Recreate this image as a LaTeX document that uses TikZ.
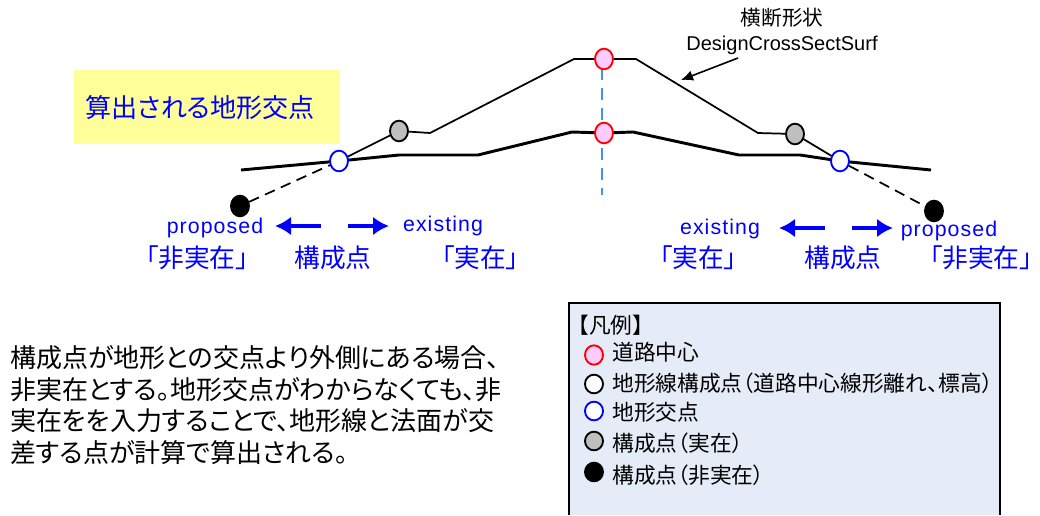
\documentclass[tikz,border=0pt]{standalone}
\usepackage{fontspec}
\setmainfont{Noto Sans CJK JP}[RawFeature={+palt}]
\newfontfamily\latinfont{Liberation Sans}
\newfontfamily\spacedfont{Liberation Sans}[LetterSpace=5]
\usetikzlibrary{shapes.geometric,backgrounds,arrows.meta}
\definecolor{notecolor}{HTML}{FFFF99}
\definecolor{legendcolor}{HTML}{E6ECF7}
\definecolor{centercolor}{HTML}{FFCCFF}
\definecolor{axiscolor}{HTML}{4A90E8}
\tikzset{
  pointmark/.style={ellipse, draw, line width=1.4pt, inner sep=0pt, minimum width=13.5pt, minimum height=15.5pt},
  centerpoint/.style={pointmark, draw=red, fill=centercolor},
  surveypoint/.style={pointmark, draw=black, fill=white},
  crosspoint/.style={pointmark, draw=blue, fill=white},
  realpoint/.style={pointmark, draw=black, fill=black!25},
  ghostpoint/.style={pointmark, draw=black, fill=black},
  bluelabel/.style={text=blue, inner sep=0pt, font=\fontsize{19.3}{21}\selectfont},
  latinlabel/.style={text=blue, inner sep=0pt, font=\spacedfont\fontsize{16}{18}\selectfont},
  legendtext/.style={anchor=west, inner sep=0pt, font=\fontsize{16.3}{18}\selectfont},
  terrain/.style={line width=2.2pt},
  design/.style={line width=1.3pt},
  bluearrow/.style={-{Latex[length=12pt,width=14pt]}, blue, line width=2.4pt},
}
\begin{document}
\begin{tikzpicture}[x=0.75pt, y=-0.75pt, >=latex]
  \useasboundingbox (0,0) rectangle (1040,515);

  \node[fill=notecolor, anchor=north west, minimum height=55.5pt, text width=183pt,
    inner xsep=8.25pt, inner ysep=0pt, align=left, text=blue,
    font=\fontsize{19.6}{22}\selectfont] (notebox) at (74,70) {算出される地形交点};

  \node[centerpoint] (centerTop) at (604,59) {};
  \node[centerpoint] (centerLow) at (604,133) {};
  \node[realpoint] (realL) at (399,131) {};
  \node[realpoint] (realR) at (795,134) {};
  \node[crosspoint] (crossL) at (339,161) {};
  \node[crosspoint] (crossR) at (840,161) {};
  \node[ghostpoint] (ghostL) at (240,206) {};
  \node[ghostpoint] (ghostR) at (934,211) {};

  \coordinate (axisTop) at (602,68);
  \coordinate (axisEnd) at (602,195);
  \coordinate (d1) at (430,133);
  \coordinate (d2) at (574,59);
  \coordinate (d3) at (636,59);
  \coordinate (d4) at (758,133);
  \coordinate (g0) at (241,170);
  \coordinate (g1) at (399,155);
  \coordinate (g2) at (478,155);
  \coordinate (g3) at (572,132);
  \coordinate (g4) at (633,132);
  \coordinate (g5) at (739,155);
  \coordinate (g6) at (800,155);
  \coordinate (g7) at (931,170);

  \begin{scope}[on background layer]
    \draw[axiscolor, line width=1pt, dash pattern=on 9pt off 6pt] (axisTop) -- (axisEnd);
    \draw[terrain] (g0) -- (crossL.center) -- (g1) -- (g2) -- (g3) -- (centerLow.center) -- (g4) -- (g5) -- (g6) -- (crossR.center) -- (g7);
    \draw[design] (crossL.center) -- (realL.center) -- (d1) -- (d2) -- (centerTop.center) -- (d3) -- (d4) -- (realR.center) -- (crossR.center);
    \draw[design, dash pattern=on 8pt off 5pt] (ghostL) -- (crossL);
    \draw[design, dash pattern=on 8pt off 5pt] (crossR) -- (ghostR);
  \end{scope}

  \node[font=\fontsize{15.5}{18}\selectfont, inner sep=0pt] (titleJa) at (782,18) {横断形状};
  \node[font=\latinfont\fontsize{15}{18}\selectfont, inner sep=0pt] (titleEn) at (782,45) {DesignCrossSectSurf};
  \coordinate (leaderStart) at (738,58);
  \coordinate (leaderEnd) at (681,80);
  \draw[-{Latex[length=9pt,width=8pt]}, line width=1.2pt] (leaderStart) -- (leaderEnd);

  \node[latinlabel] (propL) at (215,228) {proposed};
  \node[latinlabel] (exisL) at (443,226) {existing};
  \node[bluelabel] (ghostLabL) at (197,258) {「非実在」};
  \node[bluelabel] (partL) at (333,258) {構成点};
  \node[bluelabel] (realLabL) at (480,258) {「実在」};
  \node[latinlabel] (exisR) at (720,229) {existing};
  \node[latinlabel] (propR) at (949,231) {proposed};
  \node[bluelabel] (realLabR) at (698,258) {「実在」};
  \node[bluelabel] (partR) at (843,258) {構成点};
  \node[bluelabel] (ghostLabR) at (981,258) {「非実在」};

  \coordinate (arrowLa) at (321,226);
  \coordinate (headLa) at (275,226);
  \coordinate (arrowLb) at (348,226);
  \coordinate (headLb) at (389,226);
  \coordinate (arrowRa) at (825,228);
  \coordinate (headRa) at (779,228);
  \coordinate (arrowRb) at (852,228);
  \coordinate (headRb) at (893,228);
  \draw[bluearrow] (arrowLa) -- (headLa);
  \draw[bluearrow] (arrowLb) -- (headLb);
  \draw[bluearrow] (arrowRa) -- (headRa);
  \draw[bluearrow] (arrowRb) -- (headRb);

  \node[anchor=west, inner sep=0pt, align=left, font=\fontsize{19.5}{23.8}\selectfont] (bodytext) at (10,405)
    {構成点が地形との交点より外側にある場合、\\
     非実在とする。地形交点がわからなくても、非\\
     実在をを入力することで、地形線と法面が交\\
     差する点が計算で算出される。};

  \fill[legendcolor] (569,303) rectangle (1000,515);
  \draw[line width=1.4pt] (569,515) -- (569,303) -- (1000,303) -- (1000,515);
  \node[legendtext] (legendhead) at (578,325) {【凡例】};
  \node[centerpoint, minimum height=14.5pt] (keyCenter) at (594,355) {};
  \node[surveypoint, minimum height=14pt] (keySurvey) at (594,384) {};
  \node[crosspoint, minimum height=14pt] (keyCross) at (594,411) {};
  \node[realpoint, minimum height=14pt] (keyReal) at (594,441) {};
  \node[ghostpoint, minimum height=14pt] (keyGhost) at (594,472) {};
  \node[legendtext] (textCenter) at (612,352) {道路中心};
  \node[legendtext] (textSurvey) at (612,383) {地形線構成点（道路中心線形離れ、標高）};
  \node[legendtext] (textCross) at (612,412) {地形交点};
  \node[legendtext] (textReal) at (612,443) {構成点（実在）};
  \node[legendtext] (textGhost) at (612,475) {構成点（非実在）};
\end{tikzpicture}
\end{document}
